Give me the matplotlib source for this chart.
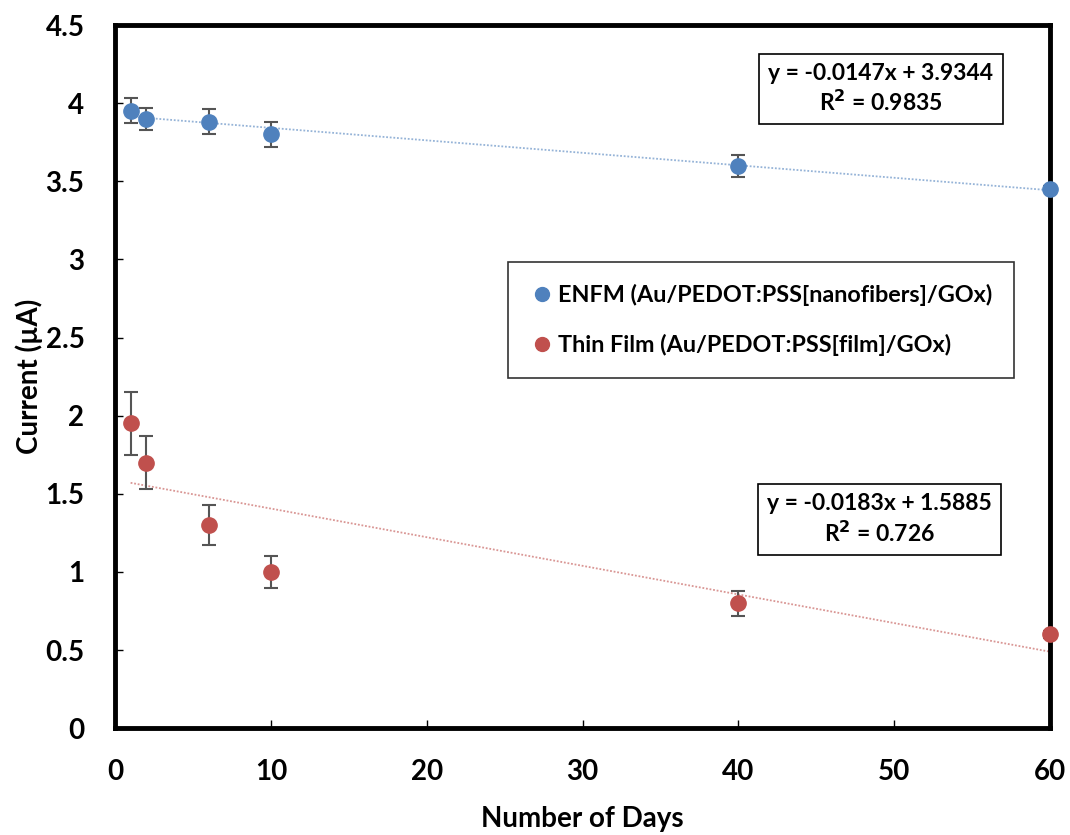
import matplotlib
matplotlib.use("Agg")
import matplotlib.pyplot as plt
from matplotlib.lines import Line2D
import numpy as np

plt.rcParams['font.family'] = ['Lato', 'DejaVu Sans']
plt.rcParams['font.weight'] = 'bold'

days = [1, 2, 6, 10, 40, 60]
enfm = [3.95, 3.90, 3.88, 3.80, 3.60, 3.45]
enfm_err = [0.08, 0.07, 0.08, 0.08, 0.07, 0.02]
film = [1.95, 1.70, 1.30, 1.00, 0.80, 0.60]
film_err = [0.20, 0.17, 0.13, 0.10, 0.08, 0.02]

enfm_label = "ENFM (Au/PEDOT:PSS[nanofibers]/GOx)"
film_label = "Thin Film (Au/PEDOT:PSS[film]/GOx)"
enfm_eq = "y = -0.0147x + 3.9344\nR$^2$ = 0.9835"
film_eq = "y = -0.0183x + 1.5885\nR$^2$ = 0.726"

blue = "#4F81BD"
red = "#C0504D"

fig = plt.figure(figsize=(10.7, 8.35), dpi=100)
ax = fig.add_axes([0.1075, 0.128, 0.874, 0.842])

xs = np.array([min(days), max(days)], dtype=float)
for ys, c in ((enfm, blue), (film, red)):
    k, b = np.polyfit(days, ys, 1)
    ax.plot(xs, k * xs + b, ls=(0, (1, 1)), lw=1.3, color=c, alpha=0.6)

ax.errorbar(days, enfm, yerr=enfm_err, fmt='o', color=blue, ms=11, ecolor='#555555',
            elinewidth=1.5, capsize=5, capthick=1.5, label=enfm_label, zorder=3, clip_on=False)
ax.errorbar(days, film, yerr=film_err, fmt='o', color=red, ms=11, ecolor='#555555',
            elinewidth=1.5, capsize=5, capthick=1.5, label=film_label, zorder=3, clip_on=False)

ax.set_xlim(0, 60)
ax.set_ylim(0, 4.5)
ax.set_xticks(np.arange(0, 61, 10))
ax.set_yticks(np.arange(0, 4.51, 0.5))
ax.set_yticklabels(['0', '0.5', '1', '1.5', '2', '2.5', '3', '3.5', '4', '4.5'])
ax.tick_params(direction='in', length=6, width=1, labelsize=20, pad=22)
for lab in ax.get_xticklabels() + ax.get_yticklabels():
    lab.set_fontweight('bold')
for s in ax.spines.values():
    s.set_linewidth(3.5)

ax.set_xlabel("Number of Days", fontsize=20, fontweight='bold', labelpad=15)
ax.set_ylabel("Current (µA)", fontsize=20, fontweight='bold', labelpad=2)

h = [Line2D([], [], marker='o', ls='', color=blue, ms=10),
     Line2D([], [], marker='o', ls='', color=red, ms=10)]
leg = ax.legend(h, [enfm_label, film_label], loc='upper left', bbox_to_anchor=(0.42, 0.663),
                frameon=True, fancybox=False, edgecolor='black', borderaxespad=0,
                handletextpad=0.2, handlelength=1.0, labelspacing=1.2, borderpad=0.95,
                prop={'weight': 'bold', 'size': 16.8})
leg.get_frame().set_linewidth(1.2)

box = dict(boxstyle='square,pad=0.4', fc='white', ec='black', lw=1.2)
ax.text(0.819, 0.909, enfm_eq, transform=ax.transAxes, ha='center', va='center',
        multialignment='center', fontsize=16.5, fontweight='bold', linespacing=1.3, bbox=box)
ax.text(0.817, 0.297, film_eq, transform=ax.transAxes, ha='center', va='center',
        multialignment='center', fontsize=16.5, fontweight='bold', linespacing=1.3, bbox=box)

fig.savefig("out.png", dpi=100, facecolor='white')
